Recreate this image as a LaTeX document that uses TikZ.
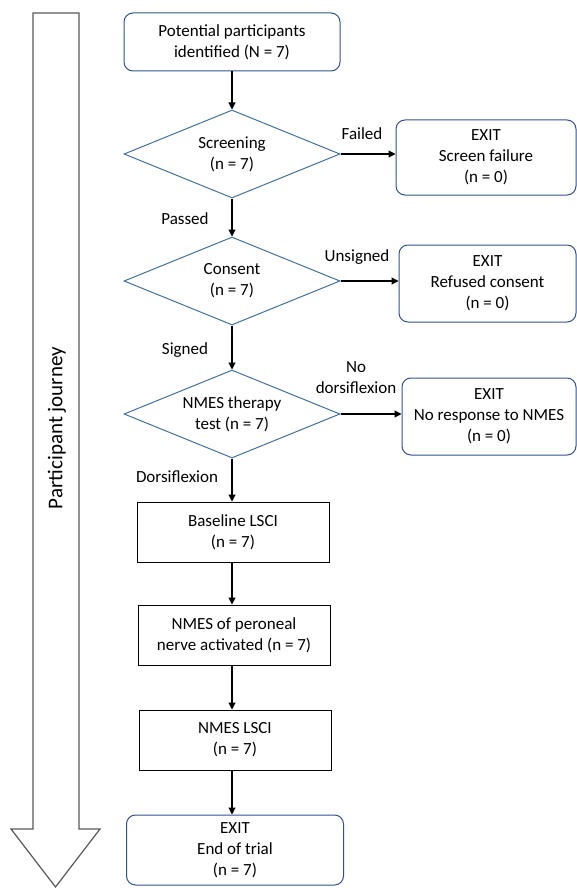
\documentclass[tikz,border=0pt]{standalone}
\usepackage{fontspec}
\setmainfont{Carlito}
\usetikzlibrary{shapes.geometric,arrows.meta}
\definecolor{decblue}{HTML}{41719C}
\definecolor{exitblue}{HTML}{2F528F}
\begin{document}
\begin{tikzpicture}[x=1pt, y=1pt, thick, font=\fontsize{17}{21}\selectfont,
    arr/.style={-{Triangle[length=7pt,width=7pt]}, line width=1.1pt},
    decision/.style={draw=decblue, line width=1pt, diamond, aspect=2.45, inner sep=0pt, minimum width=216pt, minimum height=88pt, align=center},
    exitbox/.style={draw=exitblue, line width=1pt, rectangle, rounded corners=9pt, align=center},
    stepbox/.style={draw, line width=1pt, rectangle, align=center, minimum width=192pt, minimum height=60pt},
    lbl/.style={inner sep=1pt, align=center}]
    \useasboundingbox (0,0) rectangle (577,-888);

    % participant journey arrow
    \draw[black!65, line width=1.2pt, fill=white] (33,-13) -- (79,-13) -- (79,-829) -- (100,-829) -- (55.5,-887) -- (11,-829) -- (33,-829) -- cycle;
    \node (journey) [rotate=90, font=\fontsize{21}{25}\selectfont] at (57,-428) {Participant journey};

    \node (start) [exitbox, minimum width=216pt, minimum height=58pt] at (232,-42) {Potential participants\\identified (N = 7)};
    \node (scr) [decision] at (232,-154) {Screening\\(n = 7)};
    \node (con) [decision] at (232,-281) {Consent\\(n = 7)};
    \node (test) [decision] at (232,-414) {NMES therapy\\test (n = 7)};
    \node (base) [stepbox] at (233,-532) {Baseline LSCI\\(n = 7)};
    \node (nmes) [stepbox] at (234,-635) {NMES of peroneal\\nerve activated (n = 7)};
    \node (lsci) [stepbox] at (235,-740) {NMES LSCI\\(n = 7)};
    \node (end) [exitbox, minimum width=217pt, minimum height=70pt] at (235,-850) {EXIT\\End of trial\\(n = 7)};

    \node (ex1) [exitbox, minimum width=180pt, minimum height=75pt] at (486,-157.5) {EXIT\\Screen failure\\(n = 0)};
    \node (ex2) [exitbox, minimum width=177pt, minimum height=77pt] at (487.5,-283.5) {EXIT\\Refused consent\\(n = 0)};
    \node (ex3) [exitbox, minimum width=174pt, minimum height=77pt] at (489,-416.5) {EXIT\\No response to NMES\\(n = 0)};

    \node (failed) [lbl] at (362,-134) {Failed};
    \node (unsigned) [lbl] at (357,-257) {Unsigned};
    \node (nodors) [lbl] at (356,-378) {No\\dorsiflexion};
    \node (passed) [lbl] at (185,-219) {Passed};
    \node (signed) [lbl] at (185,-350) {Signed};
    \node (dors) [lbl] at (177,-477) {Dorsiflexion};

    \draw[arr] (start.south) -- (start.south |- scr.north);
    \draw[arr] (scr.south) -- (scr.south |- con.north);
    \draw[arr] (con.south) -- (con.south |- test.north);
    \draw[arr] (test.south) -- (test.south |- base.north);
    \draw[arr] (base.south -| test.south) -- (test.south |- nmes.north);
    \draw[arr] (nmes.south -| test.south) -- (test.south |- lsci.north);
    \draw[arr] (lsci.south -| test.south) -- (test.south |- end.north);

    \draw[arr] (scr.east) -- (scr.east -| ex1.west);
    \draw[arr] (con.east) -- (con.east -| ex2.west);
    \draw[arr] (test.east) -- (test.east -| ex3.west);
\end{tikzpicture}
\end{document}
